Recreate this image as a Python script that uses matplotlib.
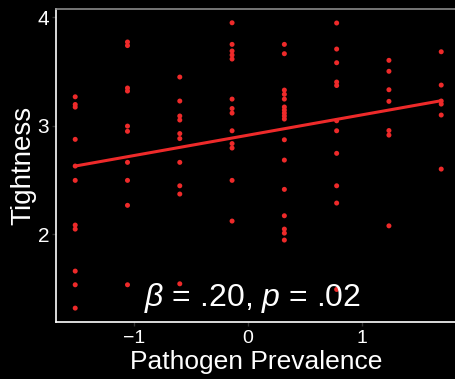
import numpy as np
import matplotlib
matplotlib.use("Agg")
import matplotlib.pyplot as plt

plt.rcParams["font.family"] = ["Liberation Sans", "DejaVu Sans"]
plt.rcParams["mathtext.fontset"] = "custom"
plt.rcParams["mathtext.it"] = "Liberation Sans:italic"
plt.rcParams["mathtext.rm"] = "Liberation Sans"

# Pathogen prevalence level for each group of observations
pathogen_levels = [-1.52, -1.06, -0.60, -0.14, 0.32, 0.78, 1.24, 1.70]

# Tightness scores observed at each pathogen level
tightness_by_level = [
    [3.265, 3.194, 3.17, 2.873, 2.627, 2.495, 2.083, 2.046, 1.659, 1.533, 1.318],
    [3.77, 3.737, 3.346, 3.318, 2.995, 2.947, 2.661, 2.495, 2.265, 1.533],
    [3.447, 3.226, 3.088, 3.051, 2.926, 2.880, 2.661, 2.445, 2.369, 1.542],
    [3.947, 3.748, 3.687, 3.650, 3.613, 3.244, 3.157, 3.115, 2.952, 2.834,
     2.793, 2.495, 2.120],
    [3.748, 3.662, 3.327, 3.288, 3.244, 3.171, 3.143, 3.115, 3.088, 3.060,
     2.869, 2.682, 2.412, 2.169, 2.046, 2.009, 1.945],
    [3.945, 3.705, 3.579, 3.401, 3.369, 3.044, 2.952, 2.744, 2.445, 2.286, 1.490],
    [3.601, 3.500, 3.330, 3.223, 2.954, 2.912, 2.076],
    [3.680, 3.373, 3.226, 3.198, 3.097, 2.599],
]

# Fitted regression line end points
fit_x = [-1.52, 1.70]
fit_y = [2.627, 3.229]

xticks = [-1, 0, 1]
yticks = [2, 3, 4]

RED = "#EE2A2A"

x_all = np.concatenate([[lvl] * len(v) for lvl, v in zip(pathogen_levels, tightness_by_level)])
y_all = np.concatenate(tightness_by_level)

fig = plt.figure(figsize=(4.56, 3.79), dpi=100, facecolor="black")
ax = fig.add_axes([56 / 456, 57 / 379, 1 - 56 / 456, 313 / 379])
ax.set_facecolor("black")

ax.scatter(x_all, y_all, s=13, color=RED, edgecolors="none", zorder=3)
ax.plot(fit_x, fit_y, color=RED, lw=2.2, solid_capstyle="round", zorder=4)

ax.set_xlim(-1.689, 1.83)
ax.set_ylim(1.19, 4.074)
ax.set_xticks(xticks)
ax.set_yticks(yticks)
ax.set_xticklabels(["\u22121", "0", "1"])

ax.tick_params(axis="both", colors="#333333", length=3, width=1,
               labelcolor="white")
ax.tick_params(axis="x", labelsize=14, pad=3)
ax.tick_params(axis="y", labelsize=15, pad=2)

for side in ("left", "bottom"):
    ax.spines[side].set_color("white")
    ax.spines[side].set_linewidth(1.2)
ax.spines["top"].set_color("#8a8a8a")
ax.spines["top"].set_linewidth(1.2)
ax.spines["right"].set_visible(False)

ax.set_xlabel("Pathogen Prevalence", color="white", fontsize=19, labelpad=2)
ax.set_ylabel("Tightness", color="white", fontsize=20, labelpad=1)

ax.text(0.04, 1.336, r"$\beta$ = .20, $p$ = .02", color="white", fontsize=23,
        ha="center", va="baseline", zorder=5)

fig.savefig("out.png", dpi=100, facecolor="black")
